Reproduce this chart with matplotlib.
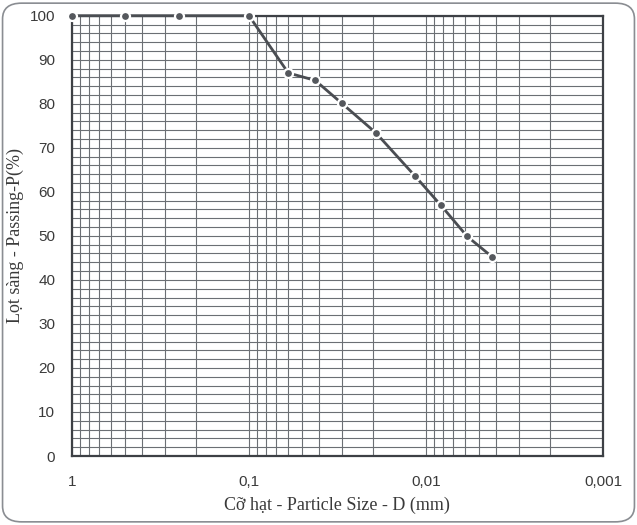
import matplotlib
matplotlib.use("Agg")
import matplotlib.pyplot as plt
from matplotlib.ticker import LogLocator, MultipleLocator, FixedLocator, FixedFormatter, NullFormatter
from matplotlib.patches import FancyBboxPatch

# grain size (mm) and percent passing
size_mm = [1.0, 0.5, 0.25, 0.1, 0.06, 0.0422, 0.0299, 0.0192, 0.01154, 0.00822, 0.00586, 0.00422]
passing = [100, 100, 100, 100, 87.0, 85.3, 80.1, 73.4, 63.6, 56.9, 49.9, 45.2]

xtick_vals = [1, 0.1, 0.01, 0.001]
xtick_labels = ["1", "0,1", "0,01", "0,001"]
ytick_vals = list(range(0, 101, 10))

grid_col = "#6b6f74"
ink = "#4a4d52"

fig = plt.figure(figsize=(6.37, 5.25), dpi=100)
fig.patch.set_facecolor("white")
ax = fig.add_axes([0.113, 0.1314, 0.8336, 0.8387])

ax.set_xscale("log")
ax.set_xlim(1, 0.001)
ax.set_ylim(0, 100)

ax.xaxis.set_major_locator(FixedLocator(xtick_vals))
ax.xaxis.set_major_formatter(FixedFormatter(xtick_labels))
ax.xaxis.set_minor_locator(LogLocator(base=10, subs=range(2, 10)))
ax.xaxis.set_minor_formatter(NullFormatter())
ax.yaxis.set_major_locator(FixedLocator(ytick_vals))
ax.yaxis.set_minor_locator(MultipleLocator(2))

ax.grid(True, which="both", axis="both", color=grid_col, lw=0.8)
ax.set_axisbelow(True)

ax.plot(size_mm, passing, color=ink, lw=2.0, marker="o", ms=6.5,
        mfc="#55585d", mec="white", mew=1.6, clip_on=False, zorder=5)

for s in ax.spines.values():
    s.set_color("#3d4045")
    s.set_linewidth(1.6)

ax.tick_params(which="both", length=0)
ax.tick_params(axis="x", pad=14, labelsize=11, labelcolor="#3a3a3a")
ax.tick_params(axis="y", pad=12, labelsize=11, labelcolor="#3a3a3a")
for lab in ax.get_xticklabels() + ax.get_yticklabels():
    lab.set_family("Liberation Sans")

ax.set_ylabel("Lọt sàng - Passing-P(%)", family="Liberation Serif", fontsize=13,
              color="#3a3a3a", labelpad=4)
fig.text(337 / 637, 1 - 505 / 525, "Cỡ hạt - Particle Size - D (mm)",
         family="Liberation Serif", fontsize=13, color="#3a3a3a",
         ha="center", va="center")

# rounded outer frame of the scanned sheet
frame = FancyBboxPatch((0.004, 0.006), 0.992, 0.988, boxstyle="round,pad=0,rounding_size=0.03",
                       transform=fig.transFigure, fill=False, ec="#8a8d92", lw=1.2)
fig.patches.append(frame)

fig.savefig("out.png", dpi=100)
